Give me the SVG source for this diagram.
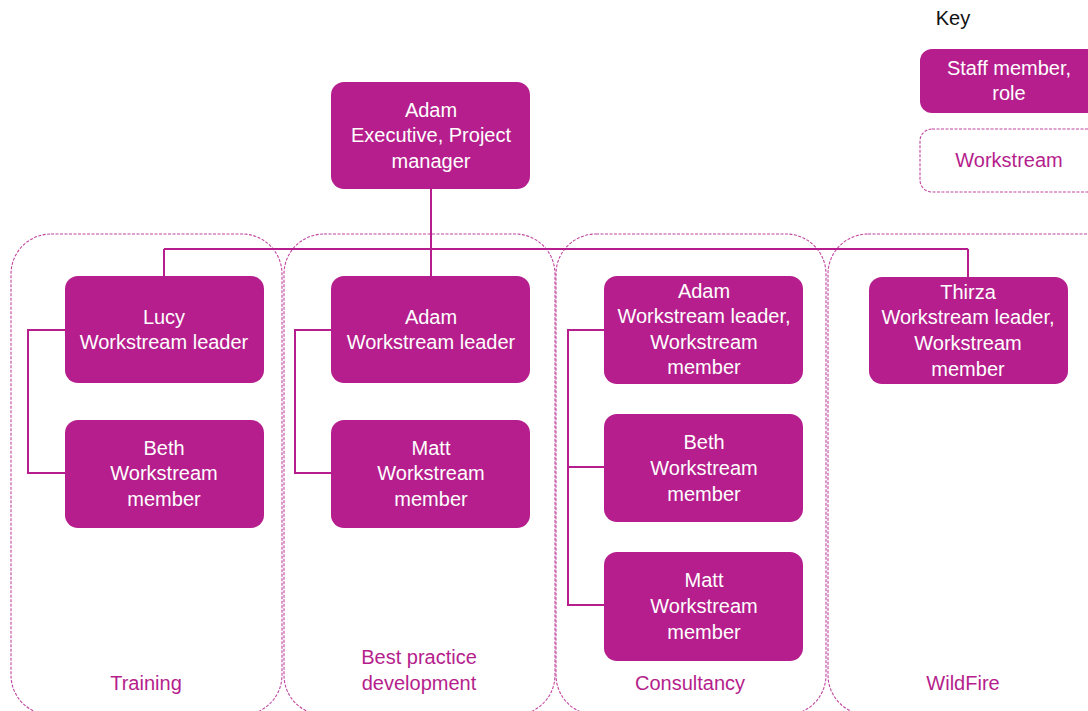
<svg xmlns="http://www.w3.org/2000/svg" width="1088" height="711" viewBox="0 0 1088 711">
<style>
.n{fill:#B51E8C;}
.t{font-family:"Liberation Sans",Arial,sans-serif;font-size:20px;fill:#fff;text-anchor:middle;}
.w{fill:none;stroke:#C1459F;stroke-width:1.1;stroke-dasharray:3 1.5;}
.wl{font-family:"Liberation Sans",Arial,sans-serif;font-size:20px;fill:#B51E8C;text-anchor:middle;}
.c{fill:none;stroke:#B51E8C;stroke-width:2;}
</style>
<rect width="1088" height="711" fill="#fff"/>
<g id="workstreams">
<g id="ws-training"><rect class="w" x="11" y="234" width="271" height="481" rx="40"/><text class="wl" x="146" y="690">Training</text></g>
<g id="ws-bpd"><rect class="w" x="284" y="234" width="271" height="481" rx="40"/><text class="wl" x="419" y="664">Best practice</text><text class="wl" x="419" y="690">development</text></g>
<g id="ws-consultancy"><rect class="w" x="556" y="234" width="270" height="481" rx="40"/><text class="wl" x="690" y="690">Consultancy</text></g>
<g id="ws-wildfire"><rect class="w" x="828" y="234" width="300" height="481" rx="40"/><text class="wl" x="963" y="690">WildFire</text></g>
</g>
<g id="connectors">
<path class="c" d="M431 189V276M164 249H968M164 249V276M968 249V277"/>
<path class="c" d="M65 330H28V473H65"/>
<path class="c" d="M331 330H295V473H331"/>
<path class="c" d="M604 330H568V605H604M568 467H604"/>
</g>
<g id="adam-exec"><rect class="n" x="331" y="82" width="199" height="107" rx="13"/><text class="t" x="431" y="117">Adam</text><text class="t" x="431" y="142">Executive, Project</text><text class="t" x="431" y="168">manager</text></g>
<g id="lucy"><rect class="n" x="65" y="276" width="199" height="107" rx="13"/><text class="t" x="164" y="324">Lucy</text><text class="t" x="164" y="349">Workstream leader</text></g>
<g id="beth-training"><rect class="n" x="65" y="420" width="199" height="108" rx="13"/><text class="t" x="164" y="455">Beth</text><text class="t" x="164" y="480">Workstream</text><text class="t" x="164" y="506">member</text></g>
<g id="adam-bpd"><rect class="n" x="331" y="276" width="199" height="107" rx="13"/><text class="t" x="431" y="324">Adam</text><text class="t" x="431" y="349">Workstream leader</text></g>
<g id="matt-bpd"><rect class="n" x="331" y="420" width="199" height="108" rx="13"/><text class="t" x="431" y="455">Matt</text><text class="t" x="431" y="480">Workstream</text><text class="t" x="431" y="506">member</text></g>
<g id="adam-consultancy"><rect class="n" x="604" y="276" width="199" height="108" rx="13"/><text class="t" x="704" y="298">Adam</text><text class="t" x="704" y="323">Workstream leader,</text><text class="t" x="704" y="349">Workstream</text><text class="t" x="704" y="374">member</text></g>
<g id="beth-consultancy"><rect class="n" x="604" y="414" width="199" height="108" rx="13"/><text class="t" x="704" y="449">Beth</text><text class="t" x="704" y="475">Workstream</text><text class="t" x="704" y="501">member</text></g>
<g id="matt-consultancy"><rect class="n" x="604" y="552" width="199" height="109" rx="13"/><text class="t" x="704" y="587">Matt</text><text class="t" x="704" y="613">Workstream</text><text class="t" x="704" y="639">member</text></g>
<g id="thirza"><rect class="n" x="869" y="277" width="199" height="107" rx="13"/><text class="t" x="968" y="299">Thirza</text><text class="t" x="968" y="324">Workstream leader,</text><text class="t" x="968" y="350">Workstream</text><text class="t" x="968" y="376">member</text></g>
<g id="key">
<text x="953" y="25" font-family="Liberation Sans,Arial,sans-serif" font-size="20" fill="#111" text-anchor="middle">Key</text>
<rect class="n" x="920" y="49" width="190" height="64" rx="12"/><text class="t" x="1009" y="75">Staff member,</text><text class="t" x="1009" y="100">role</text>
<rect class="w" x="920" y="129" width="190" height="63" rx="12"/><text class="wl" x="1009" y="167">Workstream</text>
</g>
</svg>
